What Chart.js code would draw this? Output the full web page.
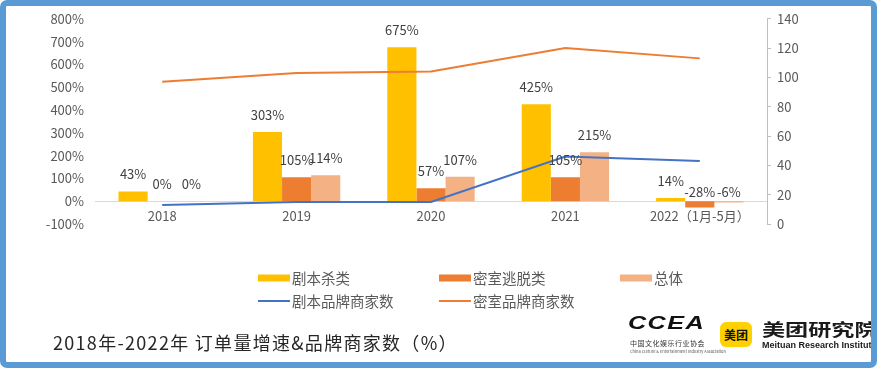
<!DOCTYPE html>
<html>
<head>
<meta charset="utf-8">
<script src="https://cdn.jsdelivr.net/npm/chart.js@4.4.0/dist/chart.umd.min.js"></script>
<style>
  html, body { margin: 0; padding: 0; background: #fff; }
  #wrap { position: relative; width: 879px; height: 370px; overflow: hidden; font-family: "Noto Sans CJK SC", sans-serif; }
  #chartBox { position: absolute; left: 0; top: 0; width: 879px; height: 370px; }
  #frame { position: absolute; left: 0; top: 0; width: 877px; height: 368px; box-sizing: border-box;
           border: 6px solid #5b9bd5; border-radius: 7px; pointer-events: none; z-index: 5; }
  #title { position: absolute; left: 53px; top: 328px; font-size: 18px; letter-spacing: 1.3px; line-height: 28px; color: #262626; white-space: nowrap; }
  .abs { position: absolute; white-space: nowrap; transform-origin: left top; }
  #ccea { left: 628px; top: 313px; font: italic 900 18px "Liberation Sans", sans-serif; color: #111; transform: scaleX(1.4); letter-spacing: 1px; }
  #cceaCn { left: 630px; top: 338px; font-size: 7px; color: #333; letter-spacing: 0.5px; }
  #cceaEn { left: 630px; top: 348px; font-size: 8px; color: #555; transform: scale(0.5); }
  #mtLogo { left: 720px; top: 322px; width: 32px; height: 25px; border-radius: 6px; background: #ffd100;
            font-size: 12px; font-weight: 700; color: #111; text-align: center; line-height: 25px; }
  #mtName { left: 762px; top: 316px; font-size: 17px; font-weight: 700; color: #1a1a1a; transform: scaleX(1.36); }
  #mtEn { left: 762px; top: 340px; font: 700 9px "Liberation Sans", sans-serif; color: #1a1a1a; }
</style>
</head>
<body>
<div id="wrap">
  <div id="chartBox"><canvas id="growthChart"></canvas></div>
  <div id="title">2018年-2022年 订单量增速&amp;品牌商家数（%）</div>
  <div id="ccea" class="abs">CCEA</div>
  <div id="cceaCn" class="abs">中国文化娱乐行业协会</div>
  <div id="cceaEn" class="abs">China Culture &amp; Entertainment Industry Association</div>
  <div id="mtLogo" class="abs">美团</div>
  <div id="mtName" class="abs">美团研究院</div>
  <div id="mtEn" class="abs">Meituan Research Institute</div>
  <div id="frame"></div>
</div>
<script>
const categories = ['2018', '2019', '2020', '2021', '2022（1月-5月）'];

// order growth, %
const scriptGrowth = [43, 303, 675, 425, 14];
const escapeGrowth = [0, 105, 57, 105, -28];
const totalGrowth = [0, 114, 107, 215, -6];

// brand merchant counts (right axis)
const scriptBrands = [13, 15, 15, 46, 43];
const escapeBrands = [97, 103, 104, 120, 113];

const growthTicks = [-100, 0, 100, 200, 300, 400, 500, 600, 700, 800];
const brandTicks = [0, 20, 40, 60, 80, 100, 120, 140];

const FONT = '"Noto Sans CJK SC", sans-serif';
const TEXT = '#595959';

// value labels above the bars
const barLabels = {
    id: 'barLabels',
    afterDatasetsDraw(chart) {
        const ctx = chart.ctx;
        const zero = chart.scales.y.getPixelForValue(0);
        ctx.save();
        ctx.font = '13px ' + FONT;
        ctx.fillStyle = '#404040';
        ctx.textAlign = 'center';
        ctx.textBaseline = 'middle';
        chart.data.datasets.forEach((ds, i) => {
            if (ds.type !== 'bar') return;
            chart.getDatasetMeta(i).data.forEach((bar, j) => {
                const v = ds.data[j];
                const y = v >= 0 ? bar.y - 17 : zero - 9;
                ctx.fillText(v + '%', bar.x, y);
            });
        });
        ctx.restore();
    }
};

// legend laid out as a grid like the original
const legendSlots = [[258, 278], [439, 278], [620, 278], [258, 301], [439, 301]];
const gridLegend = {
    id: 'gridLegend',
    afterDraw(chart) {
        const ctx = chart.ctx;
        ctx.save();
        ctx.font = '14.5px ' + FONT;
        ctx.textBaseline = 'middle';
        chart.data.datasets.forEach((ds, i) => {
            const [x, y] = legendSlots[i];
            if (ds.type === 'bar') {
                ctx.fillStyle = ds.backgroundColor;
                ctx.fillRect(x, y - 3.5, 32, 7);
            } else {
                ctx.strokeStyle = ds.borderColor;
                ctx.lineWidth = 2;
                ctx.beginPath();
                ctx.moveTo(x, y);
                ctx.lineTo(x + 32, y);
                ctx.stroke();
            }
            ctx.fillStyle = TEXT;
            ctx.fillText(ds.label, x + 34, y);
        });
        ctx.restore();
    }
};

const growthChart = new Chart(document.getElementById('growthChart'), {
    type: 'bar',
    data: {
        labels: categories,
        datasets: [
            { type: 'bar', label: '剧本杀类', data: scriptGrowth, backgroundColor: '#ffc000', yAxisID: 'y', order: 2 },
            { type: 'bar', label: '密室逃脱类', data: escapeGrowth, backgroundColor: '#ed7d31', yAxisID: 'y', order: 2 },
            { type: 'bar', label: '总体', data: totalGrowth, backgroundColor: '#f4b183', yAxisID: 'y', order: 2 },
            { type: 'line', label: '剧本品牌商家数', data: scriptBrands, borderColor: '#4472c4', borderWidth: 2,
              pointRadius: 0, tension: 0, yAxisID: 'y1', order: 1 },
            { type: 'line', label: '密室品牌商家数', data: escapeBrands, borderColor: '#ed7d31', borderWidth: 2,
              pointRadius: 0, tension: 0, yAxisID: 'y1', order: 1 }
        ]
    },
    options: {
        responsive: true,
        maintainAspectRatio: false,
        animation: false,
        datasets: { bar: { categoryPercentage: 0.65, barPercentage: 1 } },
        layout: { padding: { top: 16, bottom: 146, left: 0, right: 0 } },
        plugins: {
            legend: { display: false },
            tooltip: { enabled: false }
        },
        scales: {
            x: {
                position: { y: 0 },
                grid: { display: false, drawTicks: false },
                border: { display: true, color: '#d9d9d9', width: 1 },
                ticks: { color: TEXT, font: { family: FONT, size: 13 }, padding: 7 }
            },
            y: {
                position: 'left',
                min: growthTicks[0],
                max: growthTicks[growthTicks.length - 1],
                afterBuildTicks: s => { s.ticks = growthTicks.map(v => ({ value: v })); },
                afterFit: s => { s.width = 95; },
                grid: { display: false, drawTicks: false },
                border: { display: false },
                ticks: { color: TEXT, font: { family: FONT, size: 13 }, padding: 11, callback: v => v + '%' }
            },
            y1: {
                position: 'right',
                min: brandTicks[0],
                max: brandTicks[brandTicks.length - 1],
                afterBuildTicks: s => { s.ticks = brandTicks.map(v => ({ value: v })); },
                afterFit: s => { s.width = 112; },
                grid: { drawOnChartArea: false, drawTicks: true, tickLength: 4, color: '#bfbfbf' },
                border: { display: true, color: '#bfbfbf' },
                ticks: { color: TEXT, font: { family: FONT, size: 13 }, padding: 6 }
            }
        }
    },
    plugins: [barLabels, gridLegend]
});
</script>
</body>
</html>
